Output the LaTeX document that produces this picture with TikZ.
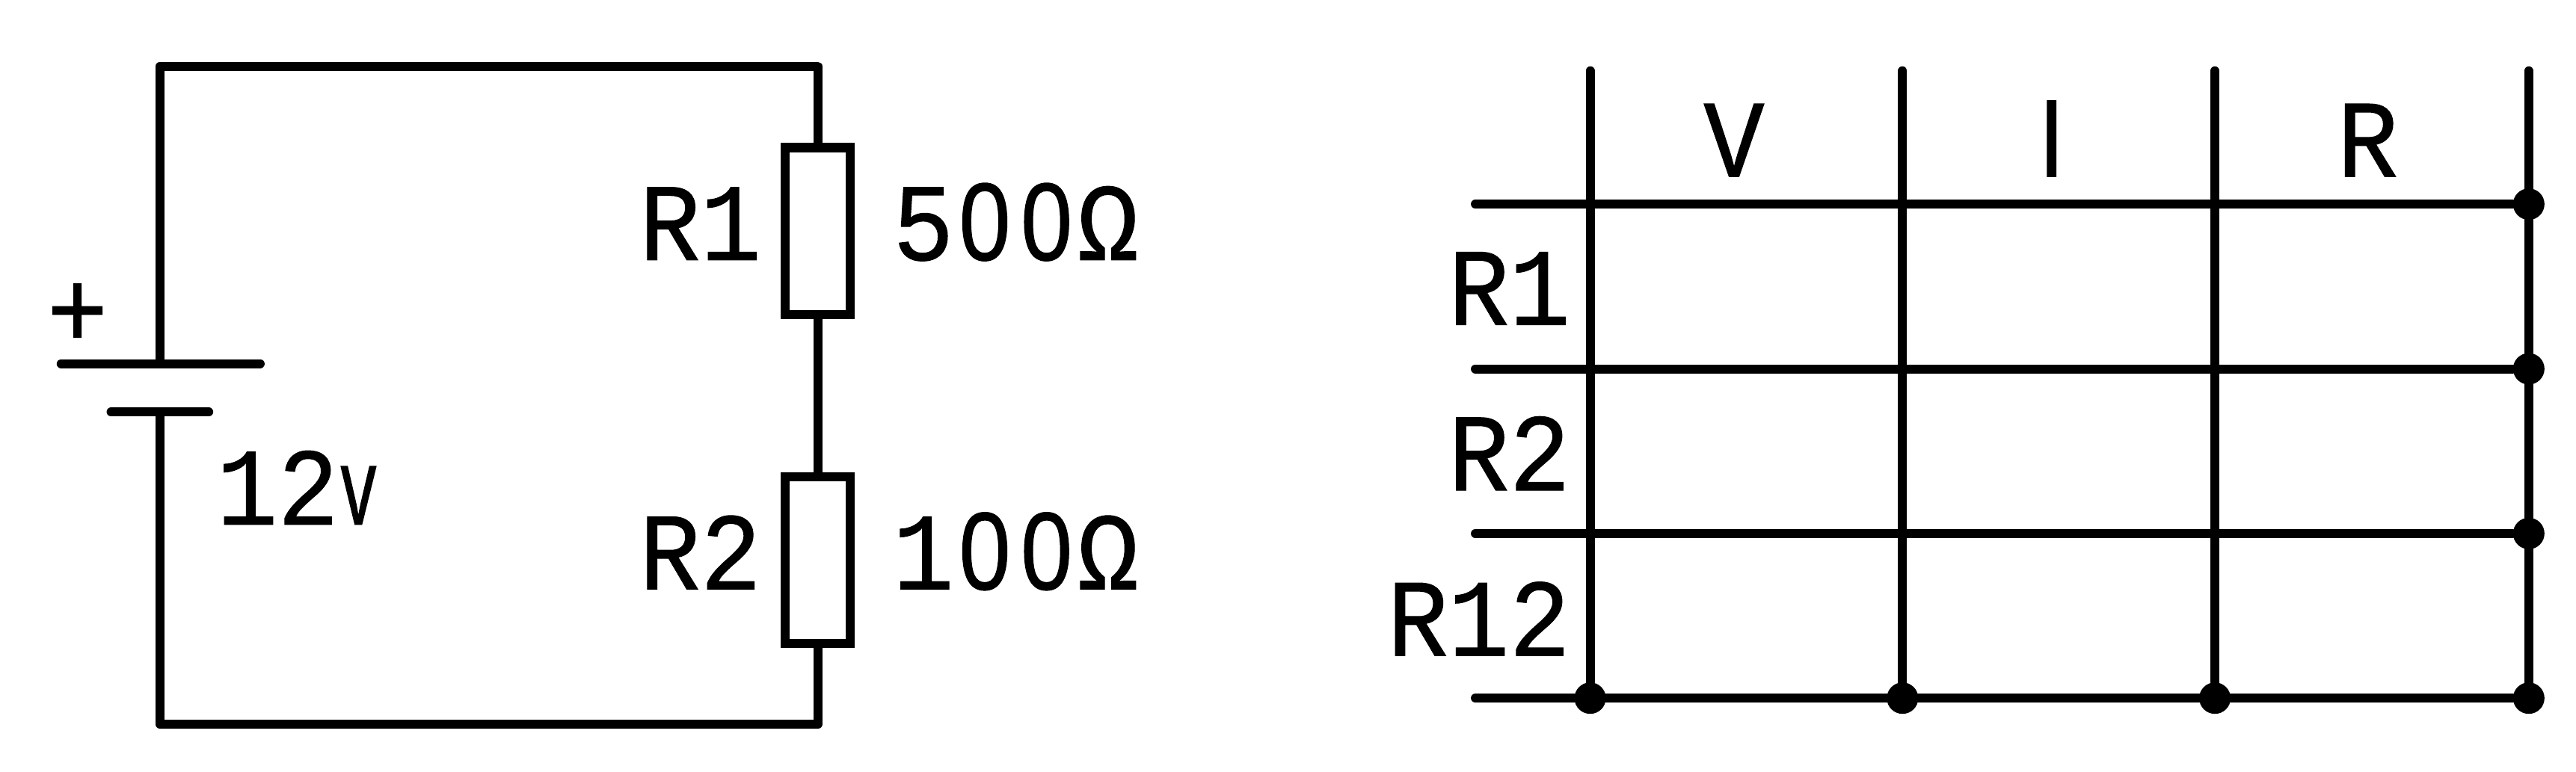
\documentclass[tikz,border=0pt]{standalone}
\usepackage{fontspec}
\setmainfont{Liberation Mono}
\newfontfamily\labfont{Liberation Mono}[FakeStretch=0.92,FakeBold=0.7]
\newfontfamily\barfont{Liberation Sans}[FakeStretch=0.84,FakeBold=0.7]
\newfontfamily\vfont{Liberation Mono}[FakeStretch=0.6,FakeBold=0.7]
\newcommand{\zr}{\makebox[0.56em]{\barfont 0}}
\usetikzlibrary{positioning}
\begin{document}
\begin{tikzpicture}
[x=0.00997cm,y=-0.00997cm,
wire/.style ={draw, line width=0.12cm, line cap=round, line join=round},
res/.style ={rectangle, draw, line width=0.12cm, fill=white,
minimum width=0.87cm, minimum height=2.23cm, inner sep=0},
dot/.style ={circle, fill=black, minimum size=0.42cm, inner sep=0},
lbl/.style ={inner sep=0, font=\fontsize{42}{42}\labfont}]
\useasboundingbox (0,0) rectangle (3455.4,1036.1);
%circuit
\coordinate (tl) at (214.5, 89);
\coordinate (tr) at (1097, 89);
\coordinate (bl) at (214.5, 972);
\coordinate (br) at (1097, 972);
\coordinate (platea) at (214.5, 488);
\coordinate (plateb) at (214.5, 553);
\coordinate (aw) at (82, 488);
\coordinate (ae) at (349, 488);
\coordinate (bw) at (149, 553);
\coordinate (be) at (280, 553);
\node [res]                (r1)    at (1097, 310)     {};
\node [res]                (r2)    at (1097, 752)     {};
\draw [wire] (platea) -- (tl) -- (tr) -- (r1);
\draw [wire] (r1) -- (r2);
\draw [wire] (r2) -- (br) -- (bl) -- (plateb);
\draw [wire] (aw) -- (ae);
\draw [wire] (bw) -- (be);
\node [lbl, anchor=base]     (plus)  at (104, 466)  {+};
\node [lbl, anchor=base west] (volt) at (290, 704)  {12{\vfont v}};
\node [lbl, anchor=base east] (nr1)  at (1022, 349) {R1};
\node [lbl, anchor=base east] (nr2)  at (1022, 791) {R2};
\node [lbl, anchor=base west] (val1) at (1197, 349) {5\zr\zr Ω};
\node [lbl, anchor=base west] (val2) at (1197, 791) {1\zr\zr Ω};
%table
\node [dot] (a4) at (2133, 937) {};
\node [dot] (b4) at (2552, 937) {};
\node [dot] (c4) at (2971, 937) {};
\node [dot] (d1) at (3392, 274) {};
\node [dot] (d2) at (3392, 495) {};
\node [dot] (d3) at (3392, 716) {};
\node [dot] (d4) at (3392, 937) {};
\coordinate (a0) at (2133, 95);
\coordinate (b0) at (2552, 95);
\coordinate (c0) at (2971, 95);
\coordinate (d0) at (3392, 95);
\coordinate (e1) at (1979, 274);
\coordinate (e2) at (1979, 495);
\coordinate (e3) at (1979, 716);
\coordinate (e4) at (1979, 937);
\draw [wire] (a0) -- (a4);
\draw [wire] (b0) -- (b4);
\draw [wire] (c0) -- (c4);
\draw [wire] (d0) -- (d4);
\draw [wire] (e1) -- (d1);
\draw [wire] (e2) -- (d2);
\draw [wire] (e3) -- (d3);
\draw [wire] (e4) -- (d4);
\node [lbl, anchor=base] (hv) at (2326, 237) {V};
\node [lbl, anchor=base] (hi) at (2752, 237) {\barfont I};
\node [lbl, anchor=base] (hr) at (3176, 237) {R};
\node [lbl, anchor=base east] (t1) at (2107, 436) {R1};
\node [lbl, anchor=base east] (t2) at (2107, 658) {R2};
\node [lbl, anchor=base east] (t3) at (2107, 880) {R12};
\end{tikzpicture}
\end{document}
